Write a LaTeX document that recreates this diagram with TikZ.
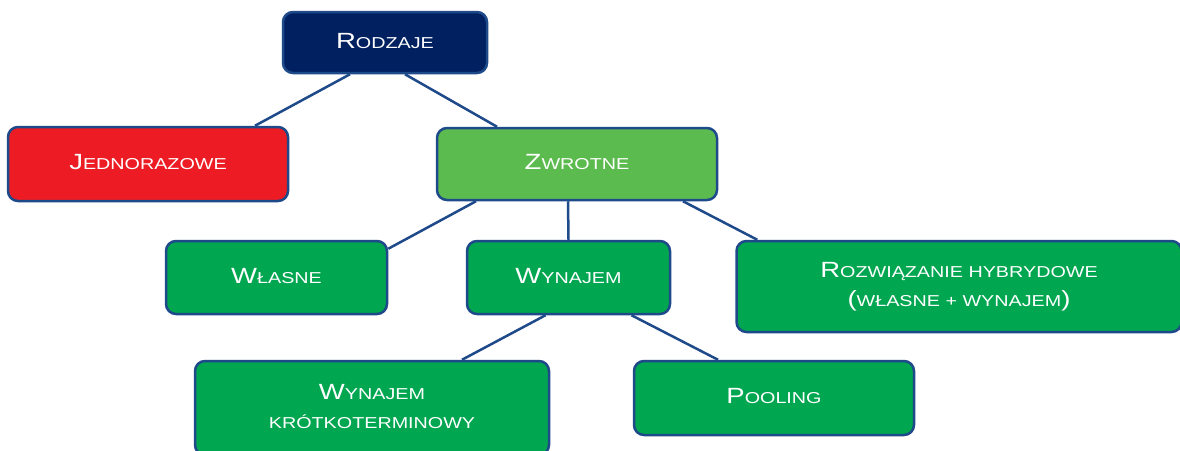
\documentclass[tikz,border=0pt]{standalone}
\usepackage{fontspec}
\usepackage{graphicx}
\setmainfont{Liberation Sans}
\usetikzlibrary{backgrounds}
\definecolor{navy}{HTML}{002060}
\definecolor{redf}{HTML}{ED1C24}
\definecolor{lgreen}{HTML}{5CBB4F}
\definecolor{dgreen}{HTML}{00A650}
\definecolor{bordc}{HTML}{1F4A8A}
\newcommand\B[1]{{\fontsize{22}{29}\selectfont #1}}
\newcommand\lbl[1]{\scalebox{1.25}[1]{\begin{tabular}{@{}c@{}}#1\end{tabular}}}
\tikzset{
  bx/.style={draw=bordc, line width=2.5pt, rounded corners=10pt, text=white,
    inner sep=0pt, font=\fontsize{15.8}{29}\selectfont},
  conn/.style={draw=bordc, line width=2.5pt}
}
\begin{document}
\begin{tikzpicture}[x=1pt,y=-1pt]
\useasboundingbox (0,0) rectangle (1180,450);
\node[bx, fill=navy, minimum width=204pt, minimum height=61pt] (rod) at (385,42.5) {\lbl{\B{R}ODZAJE}};
\node[bx, fill=redf, minimum width=280pt, minimum height=74pt] (jed) at (148,164) {\lbl{\B{J}EDNORAZOWE}};
\node[bx, fill=lgreen, minimum width=280pt, minimum height=72pt] (zw) at (577,164) {\lbl{\B{Z}WROTNE}};
\node[bx, fill=dgreen, minimum width=221pt, minimum height=73pt] (wl) at (276.5,277.5) {\lbl{\B{W}ŁASNE}};
\node[bx, fill=dgreen, minimum width=203pt, minimum height=73pt] (wy) at (568.5,277.5) {\lbl{\B{W}YNAJEM}};
\node[bx, fill=dgreen, minimum width=445pt, minimum height=91pt] (hy) at (959,286.5) {\lbl{\B{R}OZWIĄZANIE HYBRYDOWE\\\B{(}WŁASNE + WYNAJEM\B{)}}};
\node[bx, fill=dgreen, minimum width=354pt, minimum height=94pt] (kr) at (372,408) {\lbl{\B{W}YNAJEM\\KRÓTKOTERMINOWY}};
\node[bx, fill=dgreen, minimum width=280pt, minimum height=74pt] (po) at (774,398) {\lbl{\B{P}OOLING}};
\begin{scope}[on background layer]
\draw[conn] ([xshift=-35pt]rod.south) -- ([xshift=107pt]jed.north);
\draw[conn] ([xshift=20pt]rod.south) -- ([xshift=-80pt]zw.north);
\draw[conn] ([xshift=-101pt]zw.south) -- ([yshift=-9pt]wl.north east);
\draw[conn] ([xshift=-9pt]zw.south) -- (wy.north);
\draw[conn] ([xshift=106pt]zw.south) -- ([xshift=22pt]hy.north west);
\draw[conn] ([xshift=-23pt]wy.south) -- ([xshift=90pt]kr.north);
\draw[conn] ([xshift=63pt]wy.south) -- ([xshift=-56pt]po.north);
\end{scope}
\end{tikzpicture}
\end{document}
